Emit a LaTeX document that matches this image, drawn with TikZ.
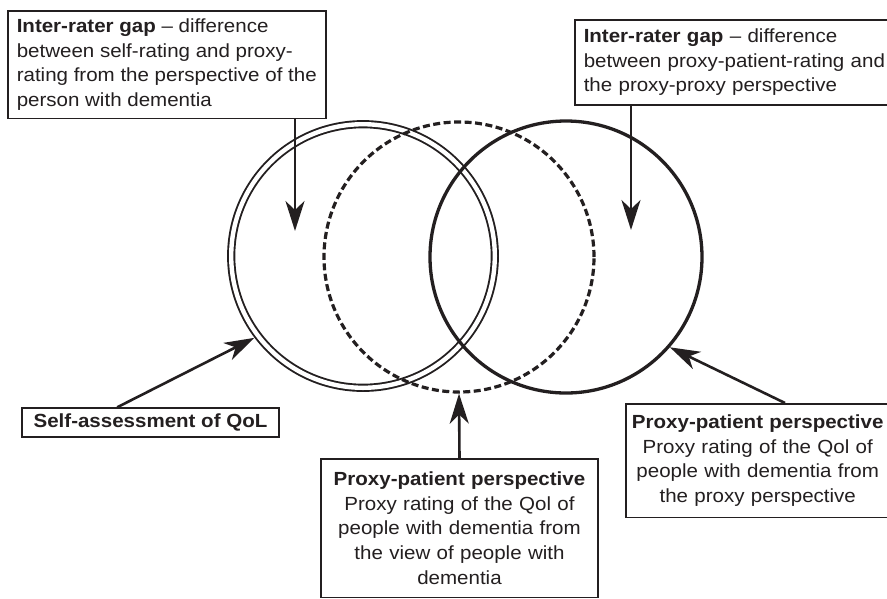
\documentclass[tikz,border=0pt]{standalone}
\usepackage{fontspec}
\setmainfont{Liberation Sans}[FakeStretch=1.08]
\usetikzlibrary{arrows.meta}
\definecolor{ink}{RGB}{35,31,32}
\begin{document}
\begin{tikzpicture}[x=1pt,y=-1pt,
  every node/.style={text=ink},
  txt/.style={font=\fontsize{19}{24.7}\selectfont},
  box/.style={txt, draw=ink, line width=1.5pt, fill=white},
  pointer/.style={draw=ink, line width=2.6pt, -{Stealth[length=30pt,width=19pt,inset=9pt]}},
  ring/.style={circle, inner sep=0pt, draw=ink}
]
\useasboundingbox (0,0) rectangle (887,598);
\clip (0,0) rectangle (887,598);

% the three overlapping perspectives
\node[ring, double=white, double distance=4.4pt, line width=1.9pt,
      minimum size=263.6pt, outer sep=4.2pt] (self) at (363,256) {};
\node[ring, line width=3.2pt, dash pattern=on 7pt off 3.5pt,
      minimum size=270pt] (pp) at (459,257) {};
\node[ring, line width=3.3pt, minimum size=272pt] (proxy) at (566,257) {};

% text boxes
\node[box, anchor=north west, align=left, inner xsep=9pt, inner ysep=8pt,
      minimum width=318pt] (gapA) at (7,10)
  {\textbf{Inter-rater gap} – difference\\
   between self-rating and proxy-\\
   rating from the perspective of the\\
   person with dementia};
\node[box, anchor=north west, text width=310pt, align=left, inner xsep=9pt,
      inner ysep=9pt] (gapB) at (574,19)
  {\textbf{Inter-rater gap} – difference\\
   between proxy-patient-rating and\\
   the proxy-proxy perspective};
\node[box, minimum width=257pt, minimum height=29pt, inner sep=0pt]
  (selfbox) at (150.5,422.5) {\textbf{Self-assessment of QoL}};
\node[box, anchor=north west, text width=256pt, align=center, inner xsep=4pt,
      inner ysep=11pt] (ppbox) at (625,403)
  {\textbf{Proxy-patient perspective}\\
   Proxy rating of the Qol of\\
   people with dementia from\\
   the proxy perspective};
\node[box, anchor=north, text width=265pt, align=center, inner xsep=6pt,
      inner ysep=13pt] (pvbox) at (459.5,458)
  {\textbf{Proxy-patient perspective}\\
   Proxy rating of the Qol of\\
   people with dementia from\\
   the view of people with\\
   dementia};

% pointers
\coordinate (tipA) at (295,231);
\coordinate (tipB) at (631,230);
\draw[pointer] (gapA.south -| tipA) -- (tipA);
\draw[pointer] (gapB.south -| tipB) -- (tipB);
\draw[pointer] ([xshift=96pt]selfbox.north west) -- (self.217.4);
\draw[pointer] ([xshift=160pt]ppbox.north west) -- (proxy.319);
\draw[pointer] (pvbox.north) -- (pp.south);
\end{tikzpicture}
\end{document}
